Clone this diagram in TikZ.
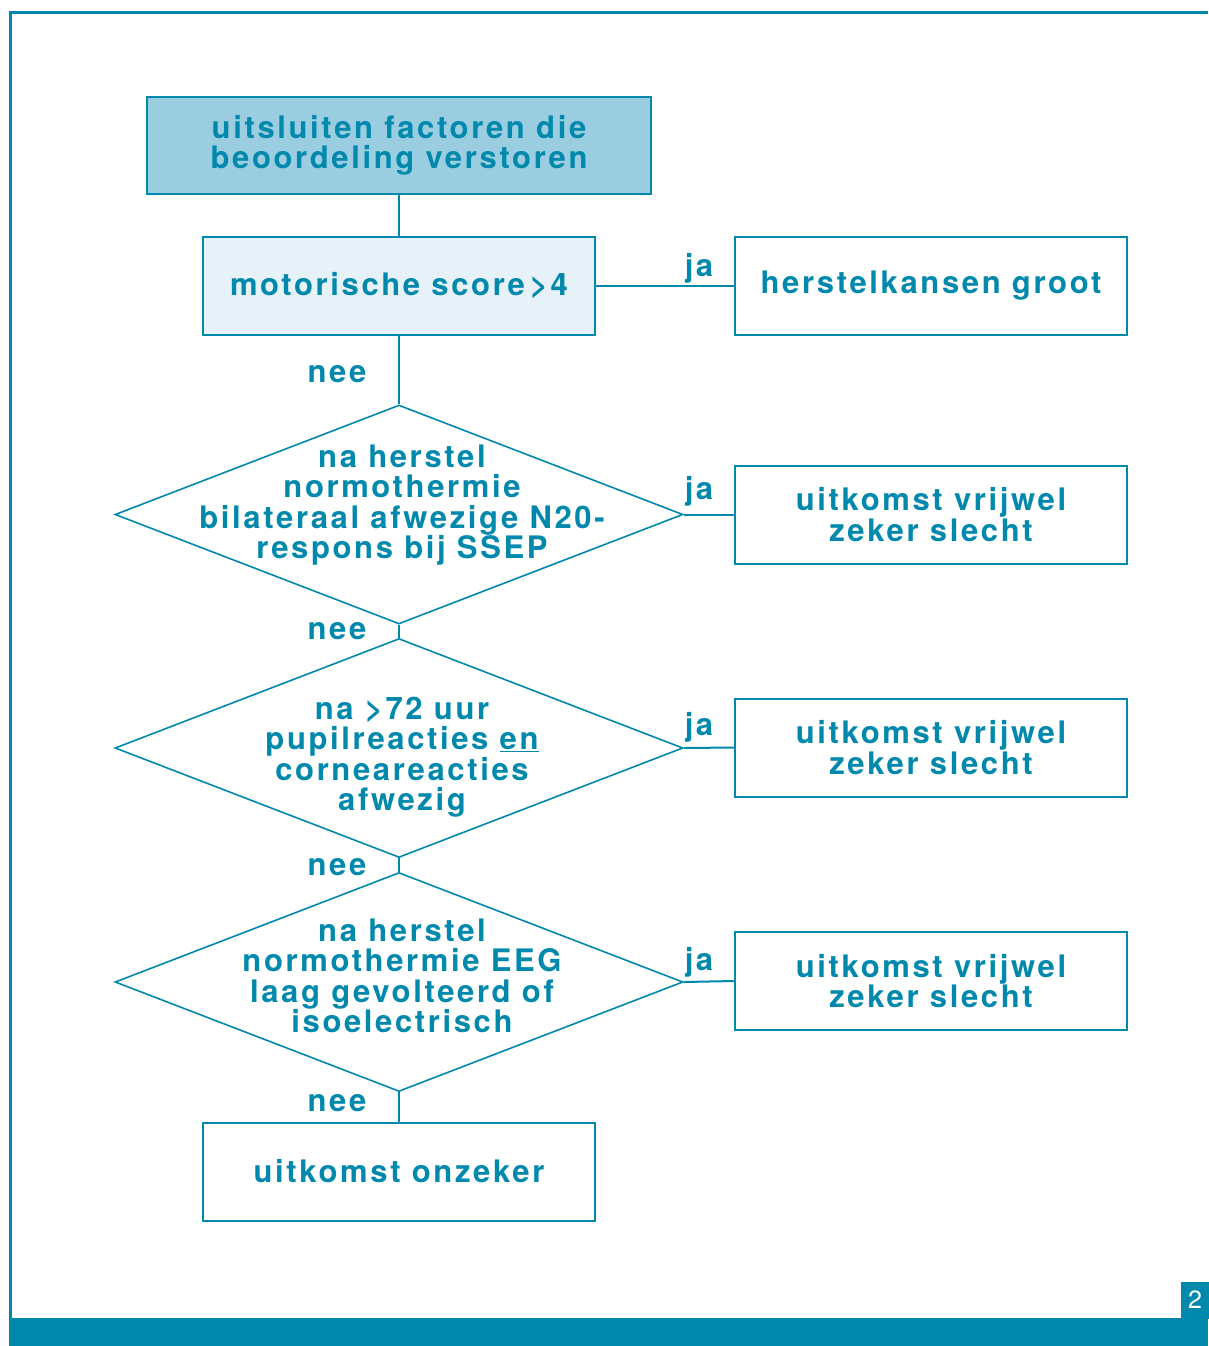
\documentclass[tikz,border=0pt]{standalone}
\usepackage{fontspec}
\setmainfont{TeX Gyre Heros}[LetterSpace=8.5]
\newfontfamily\pagefont{TeX Gyre Heros}
\usetikzlibrary{shapes.geometric}
\definecolor{teal1}{HTML}{0088AD}
\definecolor{fillA}{HTML}{9BCDE0}
\definecolor{fillB}{HTML}{E6F2F7}
\tikzset{
  txt/.style={text=teal1, font=\fontsize{31}{30.5}\selectfont\bfseries, align=center, inner sep=0pt},
  boxnode/.style={draw=teal1, line width=2pt, minimum width=392pt, minimum height=98pt, inner sep=0pt, txt},
  dia/.style={diamond, draw=teal1, line width=1.6pt, minimum width=568pt, minimum height=219pt, inner sep=0pt},
  conn/.style={draw=teal1, line width=2pt},
  lab/.style={txt}
}
\begin{document}
\begin{tikzpicture}[x=1pt,y=-1pt]
\useasboundingbox (0,0) rectangle (1208,1346);
% frame
\draw[teal1, line width=3pt] (10.5,1318) -- (10.5,12.5) -- (1208,12.5);
\fill[teal1] (9,1318) rectangle (1208,1346);
\node[fill=teal1, minimum width=28pt, minimum height=37pt, inner sep=0pt, text=white, font=\pagefont\fontsize{25}{25}\selectfont] (pg) at (1195,1300) {2};
% boxes
\node[boxnode, fill=fillA, minimum width=504pt, minimum height=97pt] (b1) at (399,145.5) {uitsluiten factoren die\\beoordeling verstoren};
\node[boxnode, fill=fillB] (b2) at (399,286) {motorische score\,>4};
\node[boxnode] (r1) at (931,286) {herstelkansen groot};
\node[dia] (d1) at (399,514.5) {};
\node[txt] (t1) at (402,505) {na herstel\\normothermie\\bilateraal afwezige N20-\\respons bij SSEP};
\node[boxnode] (r2) at (931,514.5) {uitkomst vrijwel\\zeker slecht};
\node[dia] (d2) at (399,748) {};
\node[txt] (t2) at (402,757) {na >72 uur\\pupilreacties \underline{en}\\corneareacties\\afwezig};
\node[boxnode] (r3) at (931,747.5) {uitkomst vrijwel\\zeker slecht};
\node[dia] (d3) at (399,982) {};
\node[txt] (t3) at (402,976) {na herstel\\normothermie EEG\\laag gevolteerd of\\isoelectrisch};
\node[boxnode] (r4) at (931,981) {uitkomst vrijwel\\zeker slecht};
\node[boxnode] (b3) at (399,1171.5) {uitkomst onzeker};
% connectors
\draw[conn] (b1.south) -- (b2.north);
\draw[conn] (b2.east) -- (r1.west);
\draw[conn] (b2.south) -- (d1.north);
\draw[conn] (d1.east) -- (r2.west);
\draw[conn] (d1.south) -- (d2.north);
\draw[conn] (d2.east) -- (r3.west);
\draw[conn] (d2.south) -- (d3.north);
\draw[conn] (d3.east) -- (r4.west);
\draw[conn] (d3.south) -- (b3.north);
% labels
\node[lab] (ja1) at (699,268) {ja};
\node[lab] (ja2) at (699,491) {ja};
\node[lab] (ja3) at (699,727) {ja};
\node[lab] (ja4) at (699,962) {ja};
\node[lab] (n1) at (337,374) {nee};
\node[lab] (n2) at (337,631) {nee};
\node[lab] (n3) at (337,867) {nee};
\node[lab] (n4) at (337,1103) {nee};
\end{tikzpicture}
\end{document}
